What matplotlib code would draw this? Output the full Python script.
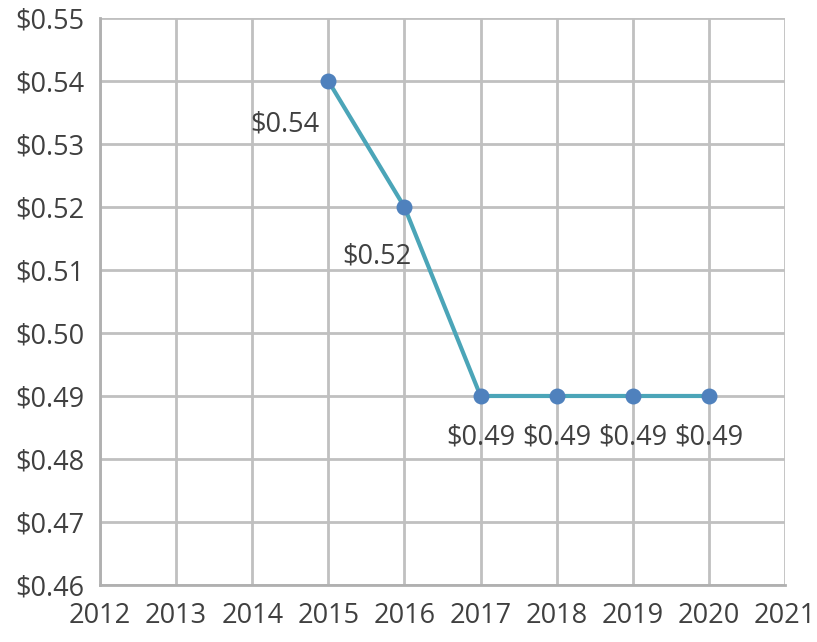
import matplotlib
matplotlib.use("Agg")
import matplotlib.pyplot as plt

# Datos
anios = [2015, 2016, 2017, 2018, 2019, 2020]
precios = [0.54, 0.52, 0.49, 0.49, 0.49, 0.49]
x_ticks = list(range(2012, 2022))
y_ticks = [0.46, 0.47, 0.48, 0.49, 0.50, 0.51, 0.52, 0.53, 0.54, 0.55]

plt.rcParams['font.family'] = ['Open Sans', 'DejaVu Sans']

fig = plt.figure(figsize=(8.17, 6.42), dpi=100)
ax = fig.add_axes([0.1224, 0.0888, 0.8384, 0.8832])

ax.plot(anios, precios, color='#4BA5B8', linewidth=3, zorder=3)
ax.scatter(anios, precios, s=110, color='#4F81BD', zorder=4)

# Etiquetas de datos (desplazamiento en puntos)
desplaz = {0: (-31, -31), 1: (-20, -36)}
for i, (x, y) in enumerate(zip(anios, precios)):
    dx, dy = desplaz.get(i, (0, -30))
    ax.annotate(f"\\${y:.2f}", (x, y), xytext=(dx, dy), textcoords='offset points',
                ha='center', va='center', fontsize=19.5, color='#404040')

ax.set_xlim(2012, 2021)
ax.set_ylim(0.46, 0.55)
ax.set_xticks(x_ticks)
ax.set_yticks(y_ticks)
ax.set_yticklabels([f"\\${v:.2f}" for v in y_ticks])
ax.tick_params(length=0, labelsize=19.5, labelcolor='#404040')
ax.tick_params(axis='y', pad=11)
ax.tick_params(axis='x', pad=12)
ax.grid(True, color='#c0c0c0', linewidth=2)
ax.set_axisbelow(True)
for lado in ['top', 'right']:
    ax.spines[lado].set_visible(False)
for lado in ['left', 'bottom']:
    ax.spines[lado].set_color('#b0b0b0')
    ax.spines[lado].set_linewidth(2)

fig.savefig('out.png', dpi=100)
